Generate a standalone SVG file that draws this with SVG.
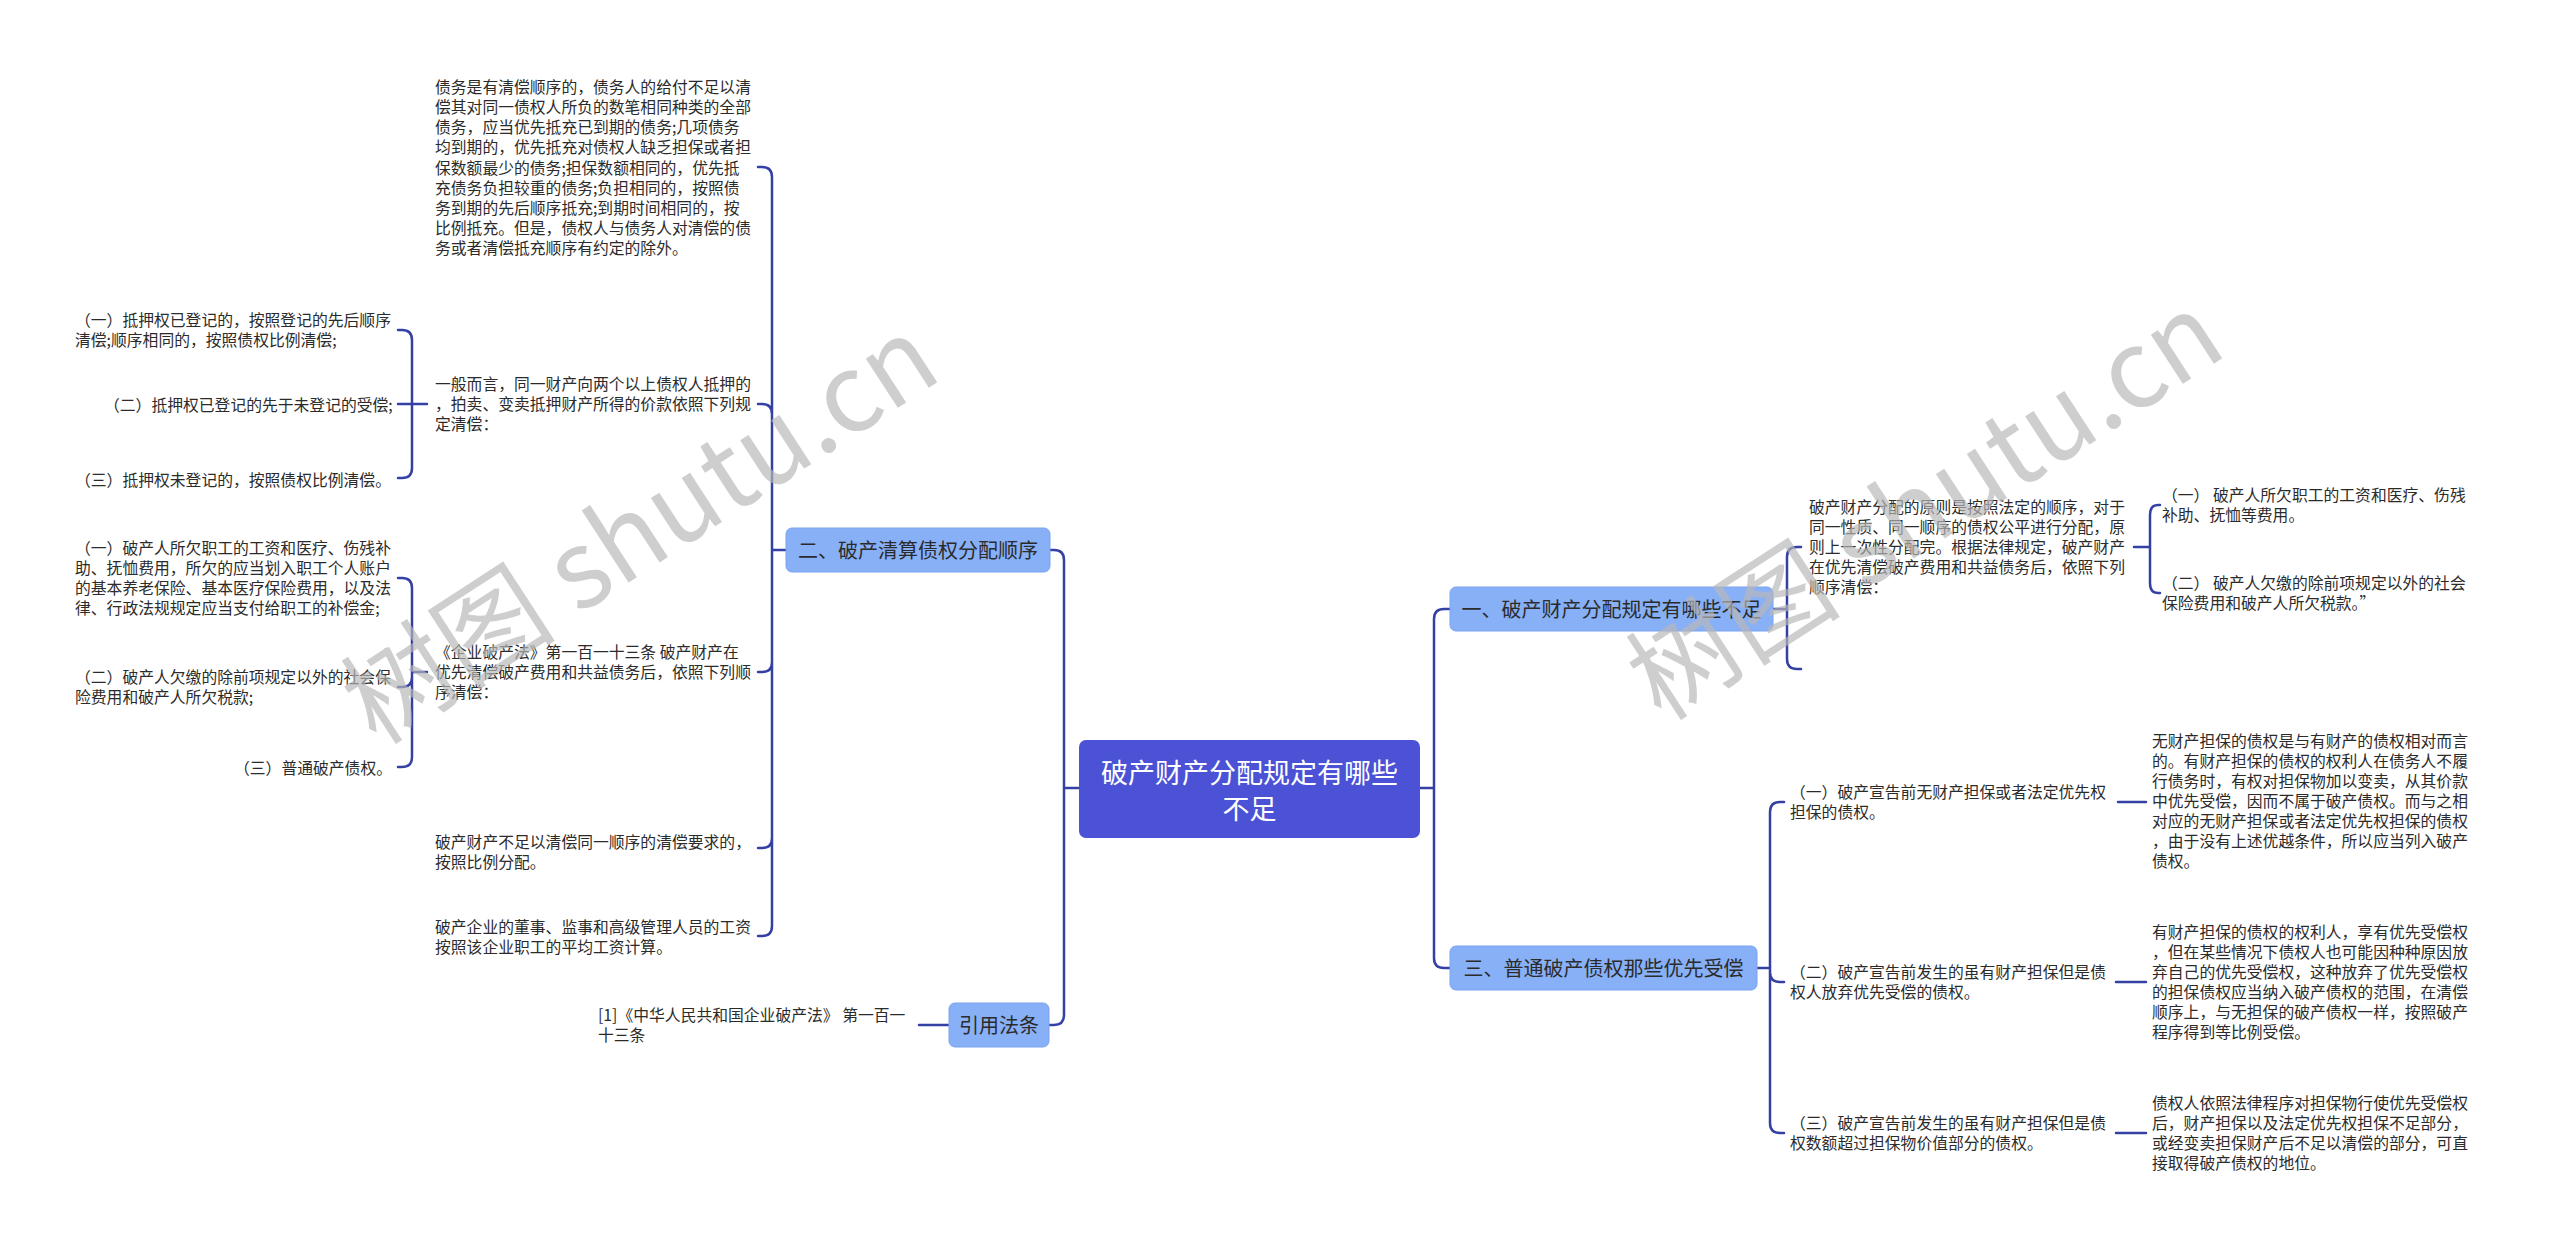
<svg xmlns="http://www.w3.org/2000/svg" width="2560" height="1249" viewBox="0 0 2560 1249">
<style>
.t{font-family:"Noto Sans CJK SC","Noto Sans",sans-serif;font-size:15.8px;fill:#2b2b2b}
.n{font-family:"Noto Sans CJK SC","Noto Sans",sans-serif;font-size:20px;fill:#2b2b2b;text-anchor:middle}
.c{font-family:"Noto Sans CJK SC","Noto Sans",sans-serif;font-size:27px;fill:#ffffff;text-anchor:middle}
.box{fill:#88b0f7;stroke:#7aa3ef;stroke-width:1}
.root{fill:#4b52d6}
.ln{fill:none;stroke:#3440a3;stroke-width:2.5;stroke-linecap:round}
.wm{font-family:"Noto Sans CJK SC","Noto Sans",sans-serif;font-size:108px;fill:#b8b8b8;opacity:0.68;text-anchor:middle}
</style>
<rect width="2560" height="1249" fill="#ffffff"/>
<g id="connectors">
<path class="ln" d="M1079 788 H1064 M1064 788 V560 Q1064 550 1054 550 H1050 M1064 788 V1015 Q1064 1025 1054 1025 H1049"/>
<path class="ln" d="M1420 788 H1434 M1434 788 V619 Q1434 609 1444 609 H1450 M1434 788 V958 Q1434 968 1444 968 H1450"/>
<path class="ln" d="M949 1025 H919"/>
<path class="ln" d="M786 550 H772 M772 550 V177 Q772 167 762 167 H758 M772 550 V414 Q772 404 762 404 H758 M772 550 V662 Q772 672 762 672 H758 M772 550 V838 Q772 848 762 848 H758 M772 550 V926 Q772 936 762 936 H758"/>
<path class="ln" d="M427 404 H398 M412 404 V340 Q412 330 402 330 H398 M412 404 V468 Q412 478 402 478 H398"/>
<path class="ln" d="M427 672 H412 M412 672 V588 Q412 578 402 578 H398 M412 672 V677 Q412 687 402 687 H398 M412 672 V757 Q412 767 402 767 H398"/>
<path class="ln" d="M1773 609 H1787 M1787 609 V557 Q1787 547 1797 547 H1801 M1787 609 V659 Q1787 669 1797 669 H1801"/>
<path class="ln" d="M2134 547 H2150 M2150 547 V515 Q2150 505 2158 505 H2160 M2150 547 V583 Q2150 593 2158 593 H2160"/>
<path class="ln" d="M1757 968 H1770 M1770 968 V812 Q1770 802 1780 802 H1784 M1770 968 V972 Q1770 982 1780 982 H1784 M1770 968 V1123 Q1770 1133 1780 1133 H1784"/>
<path class="ln" d="M2118 802 H2146 M2116 982 H2146 M2116 1133 H2146"/>
</g>
<g id="root">
<rect class="root" x="1079" y="740" width="341" height="98" rx="7"/>
<text class="c" x="1249.5" y="783">破产财产分配规定有哪些</text>
<text class="c" x="1249.5" y="819">不足</text>
</g>
<g id="n1">
<rect class="box" x="1450" y="587" width="323" height="44" rx="6"/>
<text class="n" x="1611.5" y="616.5">一、破产财产分配规定有哪些不足</text>
</g>
<g id="n2">
<rect class="box" x="786" y="528" width="264" height="44" rx="6"/>
<text class="n" x="918" y="557.5">二、破产清算债权分配顺序</text>
</g>
<g id="n3">
<rect class="box" x="1450" y="946" width="307" height="44" rx="6"/>
<text class="n" x="1603.5" y="975.5">三、普通破产债权那些优先受偿</text>
</g>
<g id="n4">
<rect class="box" x="949" y="1003" width="100" height="44" rx="6"/>
<text class="n" x="999" y="1032.5">引用法条</text>
</g>
<g id="l_a">
<text class="t" x="435" y="92.7">债务是有清偿顺序的，债务人的给付不足以清</text>
<text class="t" x="435" y="112.9">偿其对同一债权人所负的数笔相同种类的全部</text>
<text class="t" x="435" y="133.1">债务，应当优先抵充已到期的债务;几项债务</text>
<text class="t" x="435" y="153.3">均到期的，优先抵充对债权人缺乏担保或者担</text>
<text class="t" x="435" y="173.5">保数额最少的债务;担保数额相同的，优先抵</text>
<text class="t" x="435" y="193.7">充债务负担较重的债务;负担相同的，按照债</text>
<text class="t" x="435" y="213.9">务到期的先后顺序抵充;到期时间相同的，按</text>
<text class="t" x="435" y="234.1">比例抵充。但是，债权人与债务人对清偿的债</text>
<text class="t" x="435" y="254.3">务或者清偿抵充顺序有约定的除外。</text>
</g>
<g id="l_b">
<text class="t" x="435" y="390">一般而言，同一财产向两个以上债权人抵押的</text>
<text class="t" x="435" y="410">，拍卖、变卖抵押财产所得的价款依照下列规</text>
<text class="t" x="435" y="430">定清偿：</text>
</g>
<g id="l_b1">
<text class="t" x="75" y="326">（一）抵押权已登记的，按照登记的先后顺序</text>
<text class="t" x="75" y="346">清偿;顺序相同的，按照债权比例清偿;</text>
</g>
<g id="l_b2"><text class="t" x="104" y="411">（二）抵押权已登记的先于未登记的受偿;</text></g>
<g id="l_b3"><text class="t" x="75" y="486">（三）抵押权未登记的，按照债权比例清偿。</text></g>
<g id="l_c">
<text class="t" x="435" y="658">《企业破产法》第一百一十三条 破产财产在</text>
<text class="t" x="435" y="678">优先清偿破产费用和共益债务后，依照下列顺</text>
<text class="t" x="435" y="698">序清偿：</text>
</g>
<g id="l_c1">
<text class="t" x="75" y="554">（一）破产人所欠职工的工资和医疗、伤残补</text>
<text class="t" x="75" y="574">助、抚恤费用，所欠的应当划入职工个人账户</text>
<text class="t" x="75" y="594">的基本养老保险、基本医疗保险费用，以及法</text>
<text class="t" x="75" y="614">律、行政法规规定应当支付给职工的补偿金;</text>
</g>
<g id="l_c2">
<text class="t" x="75" y="683">（二）破产人欠缴的除前项规定以外的社会保</text>
<text class="t" x="75" y="703">险费用和破产人所欠税款;</text>
</g>
<g id="l_c3"><text class="t" x="234" y="774">（三）普通破产债权。</text></g>
<g id="l_d">
<text class="t" x="435" y="848">破产财产不足以清偿同一顺序的清偿要求的，</text>
<text class="t" x="435" y="868">按照比例分配。</text>
</g>
<g id="l_e">
<text class="t" x="435" y="933">破产企业的董事、监事和高级管理人员的工资</text>
<text class="t" x="435" y="953">按照该企业职工的平均工资计算。</text>
</g>
<g id="l_f">
<text class="t" x="598" y="1021">[1]《中华人民共和国企业破产法》 第一百一</text>
<text class="t" x="598" y="1041">十三条</text>
</g>
<g id="r_a">
<text class="t" x="1809" y="513">破产财产分配的原则是按照法定的顺序，对于</text>
<text class="t" x="1809" y="533">同一性质、同一顺序的债权公平进行分配，原</text>
<text class="t" x="1809" y="553">则上一次性分配完。根据法律规定，破产财产</text>
<text class="t" x="1809" y="573">在优先清偿破产费用和共益债务后，依照下列</text>
<text class="t" x="1809" y="593">顺序清偿：</text>
</g>
<g id="r_a1">
<text class="t" x="2162" y="501">（一） 破产人所欠职工的工资和医疗、伤残</text>
<text class="t" x="2162" y="521">补助、抚恤等费用。</text>
</g>
<g id="r_a2">
<text class="t" x="2162" y="589">（二） 破产人欠缴的除前项规定以外的社会</text>
<text class="t" x="2162" y="609">保险费用和破产人所欠税款。”</text>
</g>
<g id="r_b1">
<text class="t" x="1790" y="798">（一）破产宣告前无财产担保或者法定优先权</text>
<text class="t" x="1790" y="818">担保的债权。</text>
</g>
<g id="r_b1x">
<text class="t" x="2152" y="747">无财产担保的债权是与有财产的债权相对而言</text>
<text class="t" x="2152" y="767">的。有财产担保的债权的权利人在债务人不履</text>
<text class="t" x="2152" y="787">行债务时，有权对担保物加以变卖，从其价款</text>
<text class="t" x="2152" y="807">中优先受偿，因而不属于破产债权。而与之相</text>
<text class="t" x="2152" y="827">对应的无财产担保或者法定优先权担保的债权</text>
<text class="t" x="2152" y="847">，由于没有上述优越条件，所以应当列入破产</text>
<text class="t" x="2152" y="867">债权。</text>
</g>
<g id="r_b2">
<text class="t" x="1790" y="978">（二）破产宣告前发生的虽有财产担保但是债</text>
<text class="t" x="1790" y="998">权人放弃优先受偿的债权。</text>
</g>
<g id="r_b2x">
<text class="t" x="2152" y="938">有财产担保的债权的权利人，享有优先受偿权</text>
<text class="t" x="2152" y="958">，但在某些情况下债权人也可能因种种原因放</text>
<text class="t" x="2152" y="978">弃自己的优先受偿权，这种放弃了优先受偿权</text>
<text class="t" x="2152" y="998">的担保债权应当纳入破产债权的范围，在清偿</text>
<text class="t" x="2152" y="1018">顺序上，与无担保的破产债权一样，按照破产</text>
<text class="t" x="2152" y="1038">程序得到等比例受偿。</text>
</g>
<g id="r_b3">
<text class="t" x="1790" y="1129">（三）破产宣告前发生的虽有财产担保但是债</text>
<text class="t" x="1790" y="1149">权数额超过担保物价值部分的债权。</text>
</g>
<g id="r_b3x">
<text class="t" x="2152" y="1109">债权人依照法律程序对担保物行使优先受偿权</text>
<text class="t" x="2152" y="1129">后，财产担保以及法定优先权担保不足部分，</text>
<text class="t" x="2152" y="1149">或经变卖担保财产后不足以清偿的部分，可直</text>
<text class="t" x="2152" y="1169">接取得破产债权的地位。</text>
</g>
<g id="watermark">
<text class="wm" x="640" y="568" transform="rotate(-33 640 530)">树图 shutu.cn</text>
<text class="wm" x="1925" y="544" transform="rotate(-33 1925 506)">树图 shutu.cn</text>
</g>
</svg>
